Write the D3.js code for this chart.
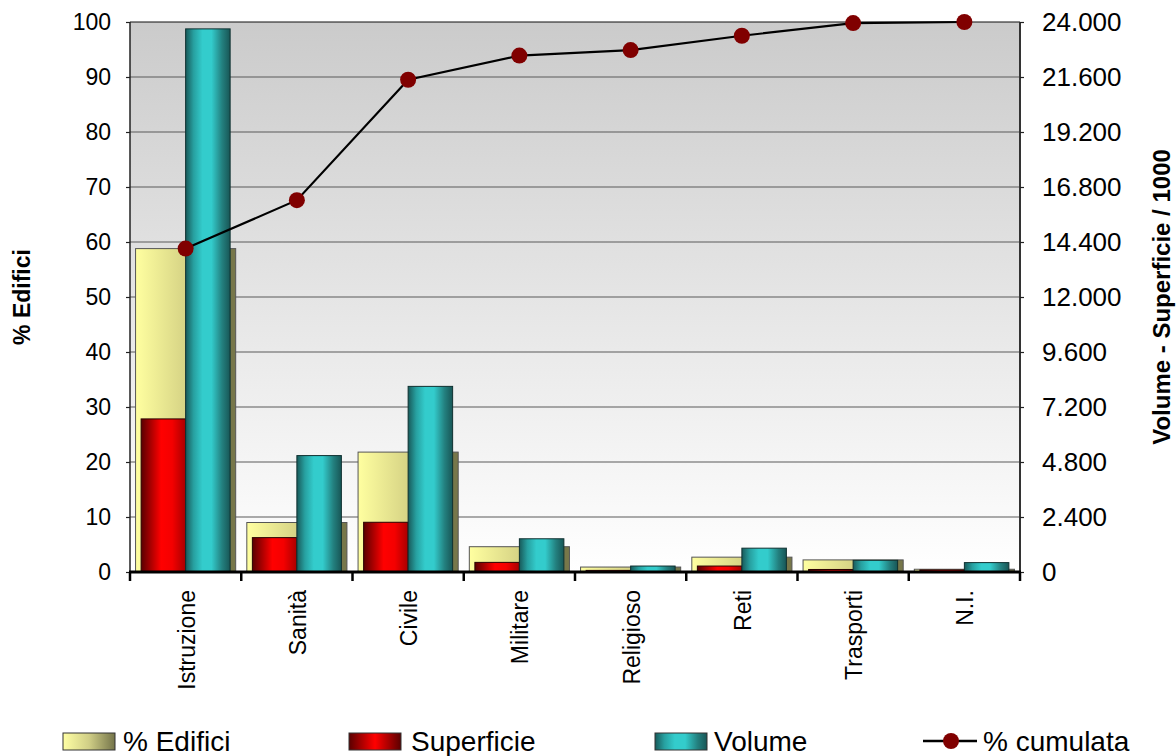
<!DOCTYPE html>
<html>
<head>
<meta charset="utf-8">
<script src="https://cdn.jsdelivr.net/npm/d3@7"></script>
<style>
  html, body { margin: 0; padding: 0; background: #ffffff; }
  svg { display: block; font-family: "Liberation Sans", Arial, sans-serif; }
</style>
</head>
<body>
<svg id="chart" width="1176" height="756"></svg>
<script>
// ---- Data ----
const categories = ["Istruzione", "Sanità", "Civile", "Militare", "Religioso", "Reti", "Trasporti", "N.I."];
const edifici    = [58.8, 9.0, 21.8, 4.6, 0.9, 2.7, 2.2, 0.5];          // % Edifici (left axis)
const superficie = [6680, 1500, 2170, 420, 70, 260, 110, 90];          // Superficie / 1000 (right axis)
const volume     = [23700, 5080, 8100, 1450, 260, 1040, 510, 410];     // Volume / 1000 (right axis)
const cumulata   = [58.8, 67.6, 89.5, 93.9, 94.9, 97.5, 99.8, 100];    // % cumulata (left axis)
const leftTicks  = [0, 10, 20, 30, 40, 50, 60, 70, 80, 90, 100];
const rightTicks = [0, 2400, 4800, 7200, 9600, 12000, 14400, 16800, 19200, 21600, 24000];
const legendLabels = ["% Edifici", "Superficie", "Volume", "% cumulata"];

// ---- Layout ----
const svg = d3.select("#chart");
const L = 130, R = 1020, T = 22, B = 572;

const x = d3.scaleBand().domain(categories).range([L, R]).paddingInner(0).paddingOuter(0);
const yL = d3.scaleLinear().domain([0, 100]).range([B, T]);
const yR = d3.scaleLinear().domain([0, 24000]).range([B, T]);
const itFmt = d3.formatLocale({decimal: ",", thousands: ".", grouping: [3], currency: ["€", ""]}).format(",");

// ---- Gradients ----
const defs = svg.append("defs");
const bg = defs.append("linearGradient").attr("id", "bg").attr("x1", 0).attr("y1", 0).attr("x2", 0).attr("y2", 1);
bg.append("stop").attr("offset", 0).attr("stop-color", "#cbcbcb");
bg.append("stop").attr("offset", 1).attr("stop-color", "#ffffff");

function hgrad(id, stops) {
  const g = defs.append("linearGradient").attr("id", id).attr("x1", 0).attr("y1", 0).attr("x2", 1).attr("y2", 0);
  stops.forEach(s => g.append("stop").attr("offset", s[0]).attr("stop-color", s[1]));
}
hgrad("gYel", [[0, "#ffffa0"], [0.5, "#d6d385"], [0.93, "#b0ae6c"], [0.945, "#77774a"], [1, "#77774a"]]);
hgrad("gYelLeg", [[0, "#ffffa4"], [0.5, "#d0ce86"], [1, "#74744a"]]);
hgrad("gRed", [[0, "#5a0000"], [0.45, "#ff0000"], [0.7, "#f40000"], [1, "#a80000"]]);
hgrad("gRedLeg", [[0, "#5a0000"], [0.5, "#ff0000"], [1, "#5a0000"]]);
hgrad("gTeal", [[0, "#185a5a"], [0.18, "#27a0a0"], [0.38, "#33cccc"], [0.58, "#33cccc"], [0.82, "#23807f"], [1, "#185656"]]);

// ---- Plot background ----
svg.append("rect").attr("x", L).attr("y", T).attr("width", R - L).attr("height", B - T).attr("fill", "url(#bg)");

// gridlines
svg.append("g").selectAll("line").data(leftTicks.filter(d => d > 0 && d < 100)).join("line")
  .attr("x1", L).attr("x2", R).attr("y1", d => yL(d)).attr("y2", d => yL(d))
  .attr("stroke", "#5a5a5a").attr("stroke-width", 1.2);

// ---- Bars ----
const bw = x.bandwidth();
const idx = d3.range(categories.length);

svg.append("g").selectAll("rect").data(idx).join("rect")
  .attr("x", i => x(categories[i]) + bw * 0.05)
  .attr("width", bw * 0.9)
  .attr("y", i => yL(edifici[i]))
  .attr("height", i => B - yL(edifici[i]))
  .attr("fill", "url(#gYel)").attr("stroke", "#555", ).attr("stroke-width", 1);

svg.append("g").selectAll("rect").data(idx).join("rect")
  .attr("x", i => x(categories[i]) + bw * 0.1)
  .attr("width", bw * 0.4)
  .attr("y", i => yR(superficie[i]))
  .attr("height", i => B - yR(superficie[i]))
  .attr("fill", "url(#gRed)").attr("stroke", "#2a0000").attr("stroke-width", 1);

svg.append("g").selectAll("rect").data(idx).join("rect")
  .attr("x", i => x(categories[i]) + bw * 0.5)
  .attr("width", bw * 0.4)
  .attr("y", i => yR(volume[i]))
  .attr("height", i => B - yR(volume[i]))
  .attr("fill", "url(#gTeal)").attr("stroke", "#0f3030").attr("stroke-width", 1);

// ---- Frame / axes ----
svg.append("line").attr("x1", L).attr("x2", R).attr("y1", T).attr("y2", T).attr("stroke", "#111").attr("stroke-width", 1.2);
svg.append("line").attr("x1", L).attr("x2", L).attr("y1", T).attr("y2", B).attr("stroke", "#222").attr("stroke-width", 1.5);
svg.append("line").attr("x1", R).attr("x2", R).attr("y1", T).attr("y2", B).attr("stroke", "#333").attr("stroke-width", 2);

// left axis
const gL = svg.append("g").attr("transform", `translate(${L},0)`)
  .call(d3.axisLeft(yL).tickValues(leftTicks).tickSize(4).tickPadding(15).tickFormat(d3.format("d")));
gL.select(".domain").remove();
gL.selectAll(".tick line").attr("stroke", "#222").attr("stroke-width", 1.2);
gL.selectAll(".tick text").attr("font-size", 23).attr("fill", "#000").attr("font-family", "Liberation Sans, Arial, sans-serif");

// right axis
const gR = svg.append("g").attr("transform", `translate(${R},0)`)
  .call(d3.axisRight(yR).tickValues(rightTicks).tickSize(4).tickPadding(18).tickFormat(itFmt));
gR.select(".domain").remove();
gR.selectAll(".tick line").attr("stroke", "#222").attr("stroke-width", 1.2);
gR.selectAll(".tick text").attr("font-size", 26).attr("fill", "#000").attr("font-family", "Liberation Sans, Arial, sans-serif");

// bottom axis
const bounds = categories.map(c => x(c)).concat([R]);
svg.append("line").attr("x1", L - 1).attr("x2", R + 1).attr("y1", B).attr("y2", B).attr("stroke", "#000").attr("stroke-width", 3);
svg.append("g").selectAll("line").data(bounds).join("line")
  .attr("x1", d => d).attr("x2", d => d).attr("y1", B).attr("y2", B + 9)
  .attr("stroke", "#000").attr("stroke-width", 2.5);

svg.append("g").selectAll("text").data(categories).join("text")
  .attr("transform", d => `translate(${x(d) + bw / 2 + 1},${590}) rotate(-90)`)
  .attr("text-anchor", "end").attr("dy", "0.35em")
  .attr("font-size", 23).attr("fill", "#000")
  .text(d => d);

// ---- Cumulative line ----
const line = d3.line().x((d, i) => x(categories[i]) + bw / 2).y(d => yL(d));
svg.append("path").datum(cumulata).attr("d", line).attr("fill", "none").attr("stroke", "#000").attr("stroke-width", 2.2);
svg.append("g").selectAll("circle").data(cumulata).join("circle")
  .attr("cx", (d, i) => x(categories[i]) + bw / 2).attr("cy", d => yL(d)).attr("r", 8)
  .attr("fill", "#800000");

// ---- Axis titles ----
svg.append("text").attr("transform", `translate(22,${(T + B) / 2}) rotate(-90)`)
  .attr("text-anchor", "middle").attr("dy", "0.35em").attr("font-size", 23).attr("font-weight", "bold")
  .text("% Edifici");
svg.append("text").attr("transform", `translate(1162,${(T + B) / 2}) rotate(-90)`)
  .attr("text-anchor", "middle").attr("dy", "0.35em").attr("font-size", 24).attr("font-weight", "bold")
  .text("Volume - Superficie / 1000");

// ---- Legend ----
const ly = 741;
const leg = svg.append("g");
const swatches = [
  {x: 63, fill: "url(#gYelLeg)", tx: 123},
  {x: 349, fill: "url(#gRedLeg)", tx: 411},
  {x: 655, fill: "url(#gTeal)", tx: 714}
];
swatches.forEach((s, i) => {
  leg.append("rect").attr("x", s.x).attr("y", ly - 8).attr("width", 52).attr("height", 17)
    .attr("fill", s.fill).attr("stroke", "#333").attr("stroke-width", 1);
  leg.append("text").attr("x", s.tx).attr("y", ly).attr("dy", "0.36em").attr("font-size", 28).text(legendLabels[i]);
});
leg.append("line").attr("x1", 923).attr("x2", 977).attr("y1", ly).attr("y2", ly).attr("stroke", "#000").attr("stroke-width", 2.5);
leg.append("circle").attr("cx", 951).attr("cy", ly).attr("r", 8).attr("fill", "#800000");
leg.append("text").attr("x", 983).attr("y", ly).attr("dy", "0.36em").attr("font-size", 28).text(legendLabels[3]);
</script>
</body>
</html>
